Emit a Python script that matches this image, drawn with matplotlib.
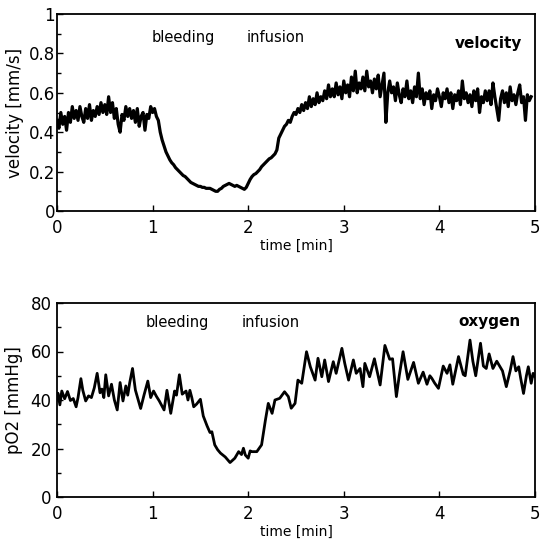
import numpy as np
import matplotlib
matplotlib.use("Agg")
import matplotlib.pyplot as plt
from matplotlib.ticker import MultipleLocator

plt.rcParams['font.family'] = ['DejaVu Sans']

# ---------------- data ----------------
vel_dt = 0.02  # min, sampling step of velocity trace
velocity = [
    0.46, 0.42, 0.50, 0.44, 0.48,
    0.41, 0.50, 0.45, 0.53, 0.47,
    0.51, 0.46, 0.53, 0.48, 0.45,
    0.52, 0.47, 0.54, 0.46, 0.51,
    0.48, 0.53, 0.49, 0.55, 0.50,
    0.54, 0.49, 0.58, 0.50, 0.55,
    0.47, 0.52, 0.44, 0.40, 0.49,
    0.46, 0.53, 0.48, 0.52, 0.47,
    0.51, 0.45, 0.52, 0.43, 0.48,
    0.50, 0.41, 0.49, 0.47, 0.53,
    0.50, 0.52, 0.48, 0.46, 0.40,
    0.36, 0.33, 0.30, 0.28, 0.26,
    0.245, 0.235, 0.22, 0.21, 0.20,
    0.19, 0.18, 0.175, 0.165, 0.155,
    0.145, 0.14, 0.135, 0.13, 0.125,
    0.125, 0.12, 0.12, 0.115, 0.115,
    0.115, 0.11, 0.105, 0.10, 0.10,
    0.11, 0.115, 0.125, 0.13, 0.135,
    0.14, 0.135, 0.13, 0.125, 0.13,
    0.125, 0.12, 0.115, 0.11, 0.12,
    0.14, 0.16, 0.175, 0.185, 0.19,
    0.20, 0.21, 0.225, 0.235, 0.245,
    0.255, 0.265, 0.27, 0.28, 0.29,
    0.31, 0.37, 0.39, 0.41, 0.43,
    0.44, 0.46, 0.45, 0.48, 0.50,
    0.49, 0.52, 0.50, 0.54, 0.51,
    0.55, 0.52, 0.58, 0.53, 0.57,
    0.54, 0.60, 0.55, 0.58, 0.56,
    0.61, 0.57, 0.64, 0.58, 0.62,
    0.58, 0.65, 0.59, 0.63, 0.57,
    0.66, 0.60, 0.64, 0.58, 0.68,
    0.61, 0.71, 0.60, 0.65, 0.62,
    0.68, 0.61, 0.71, 0.63, 0.66,
    0.60, 0.67, 0.62, 0.69, 0.58,
    0.64, 0.70, 0.45, 0.60, 0.66,
    0.60, 0.63, 0.56, 0.65, 0.59,
    0.55, 0.62, 0.58, 0.66, 0.57,
    0.61, 0.55, 0.63, 0.58, 0.70,
    0.57, 0.62, 0.54, 0.60, 0.57,
    0.61, 0.52, 0.59, 0.56, 0.62,
    0.58, 0.53, 0.60, 0.57, 0.62,
    0.55, 0.60, 0.52, 0.59, 0.56,
    0.61, 0.54, 0.66, 0.57, 0.60,
    0.55, 0.59, 0.53, 0.61, 0.56,
    0.62, 0.50, 0.58, 0.55, 0.61,
    0.56, 0.61, 0.54, 0.65, 0.58,
    0.52, 0.46, 0.57, 0.61, 0.55,
    0.60, 0.53, 0.63, 0.56, 0.59,
    0.54, 0.60, 0.64, 0.55, 0.58,
    0.46, 0.59, 0.56, 0.58,
]

oxy_time = [
    0.00, 0.01, 0.03, 0.05, 0.08, 0.11, 0.14, 0.17, 0.20, 0.22,
    0.25, 0.27, 0.30, 0.33, 0.36, 0.39, 0.42, 0.45, 0.47, 0.49,
    0.51, 0.54, 0.57, 0.60, 0.63, 0.66, 0.69, 0.72, 0.74, 0.76,
    0.79, 0.82, 0.85, 0.875, 0.91, 0.95, 0.98, 1.01, 1.04, 1.07,
    1.12, 1.15, 1.19, 1.23, 1.25, 1.28, 1.31, 1.35, 1.37, 1.39,
    1.41, 1.43, 1.46, 1.50, 1.53, 1.57, 1.60, 1.62, 1.65, 1.68,
    1.71, 1.76, 1.81, 1.86, 1.90, 1.93, 1.95, 1.97, 2.00, 2.02,
    2.04, 2.09, 2.14, 2.18, 2.21, 2.25, 2.28, 2.33, 2.38, 2.42,
    2.45, 2.49, 2.52, 2.56, 2.61, 2.65, 2.70, 2.73, 2.77, 2.80,
    2.84, 2.89, 2.92, 2.98, 3.01, 3.05, 3.10, 3.13, 3.17, 3.20,
    3.22, 3.27, 3.32, 3.38, 3.43, 3.48, 3.51, 3.55, 3.58, 3.62,
    3.67, 3.70, 3.73, 3.78, 3.83, 3.87, 3.90, 3.92, 3.95, 3.99,
    4.04, 4.08, 4.11, 4.14, 4.20, 4.25, 4.27, 4.32, 4.35, 4.38,
    4.43, 4.46, 4.49, 4.52, 4.56, 4.60, 4.63, 4.66, 4.70, 4.74,
    4.77, 4.80, 4.83, 4.85, 4.88, 4.91, 4.93, 4.96, 4.98, 5.00,
]
oxygen = [
    40.0, 42.8, 38.0, 43.7, 40.5, 43.5, 39.8, 40.6, 37.2, 41.0,
    48.8, 44.0, 39.6, 41.7, 41.0, 45.0, 51.0, 43.0, 44.5, 41.0,
    50.4, 41.7, 46.5, 40.0, 35.9, 47.2, 39.6, 45.8, 42.0, 47.0,
    53.0, 44.1, 40.0, 36.5, 42.0, 47.8, 41.0, 43.7, 41.5, 39.6,
    35.9, 44.0, 34.5, 43.7, 42.0, 50.4, 42.4, 43.7, 40.0, 44.0,
    41.0, 37.2, 38.3, 40.3, 33.4, 29.3, 26.6, 26.9, 21.5, 19.5,
    18.1, 16.5, 14.2, 16.0, 18.7, 17.5, 20.1, 17.3, 16.0, 19.0,
    18.7, 18.7, 21.5, 31.7, 38.6, 34.5, 40.0, 40.7, 43.4, 41.4,
    36.6, 38.6, 48.2, 46.9, 59.9, 53.7, 48.2, 57.2, 49.6, 56.5,
    47.6, 55.8, 51.0, 61.3, 55.1, 48.2, 56.5, 51.0, 53.0, 45.5,
    55.1, 49.6, 57.0, 46.2, 62.5, 56.8, 57.0, 41.4, 50.0, 59.9,
    48.5, 52.0, 55.5, 46.9, 51.5, 46.5, 50.0, 49.0, 47.0, 44.8,
    54.0, 51.0, 54.5, 46.5, 57.9, 50.5, 50.0, 64.7, 56.0, 50.0,
    63.4, 54.0, 53.0, 59.0, 53.0, 56.0, 54.0, 52.0, 45.5, 52.0,
    57.9, 52.0, 53.7, 49.0, 42.7, 50.0, 53.7, 46.9, 51.0, 49.6,
]

x_ticks = [0, 1, 2, 3, 4, 5]
vel_yticks = [0, 0.2, 0.4, 0.6, 0.8, 1.0]
vel_yticklabels = ["0", "0.2", "0.4", "0.6", "0.8", "1"]
oxy_yticks = [0, 20, 40, 60, 80]

# ---------------- figure ----------------
fig = plt.figure(figsize=(5.41, 5.56), dpi=100)
W, H = 541, 556
ax1 = fig.add_axes([57 / W, 1 - 211 / H, 478 / W, 197 / H])
ax2 = fig.add_axes([57 / W, 1 - 497 / H, 478 / W, 194 / H])

vel_time = np.arange(len(velocity)) * vel_dt
ax1.plot(vel_time, velocity, color="black", lw=2.3)
ax2.plot(oxy_time, oxygen, color="black", lw=2.0)

for ax in (ax1, ax2):
    ax.set_xlim(0, 5)
    ax.set_xticks(x_ticks)
    ax.set_xticklabels([str(t) for t in x_ticks])
    ax.tick_params(direction="in", length=4, width=1, labelsize=12,
                   top=False, right=False)
    ax.tick_params(axis="x", pad=6)
    ax.tick_params(which="minor", direction="in", length=3, width=1)
    for s in ax.spines.values():
        s.set_linewidth(1.3)
    ax.set_xlabel("time [min]", fontsize=10, labelpad=1)

ax1.set_ylim(0, 1)
ax1.set_yticks(vel_yticks)
ax1.set_yticklabels(vel_yticklabels)
ax1.yaxis.set_minor_locator(MultipleLocator(0.1))
ax1.tick_params(axis="y", pad=1.5)
ax1.set_ylabel("velocity [mm/s]", fontsize=12, labelpad=3)

ax2.set_ylim(0, 80)
ax2.set_yticks(oxy_yticks)
ax2.yaxis.set_minor_locator(MultipleLocator(10))
ax2.tick_params(axis="y", pad=4)
ax2.set_ylabel("pO2 [mmHg]", fontsize=12, labelpad=5)

ax1.text(1.32, 0.88, "bleeding", ha="center", va="center", fontsize=10.5)
ax1.text(2.29, 0.88, "infusion", ha="center", va="center", fontsize=10.5)
ax1.text(4.87, 0.85, "velocity", ha="right", va="center", fontsize=11,
         fontweight="bold")

ax2.text(1.26, 71.8, "bleeding", ha="center", va="center", fontsize=10.5)
ax2.text(2.24, 71.8, "infusion", ha="center", va="center", fontsize=10.5)
ax2.text(4.85, 72.5, "oxygen", ha="right", va="center", fontsize=11,
         fontweight="bold")

fig.savefig("out.png", dpi=100)
